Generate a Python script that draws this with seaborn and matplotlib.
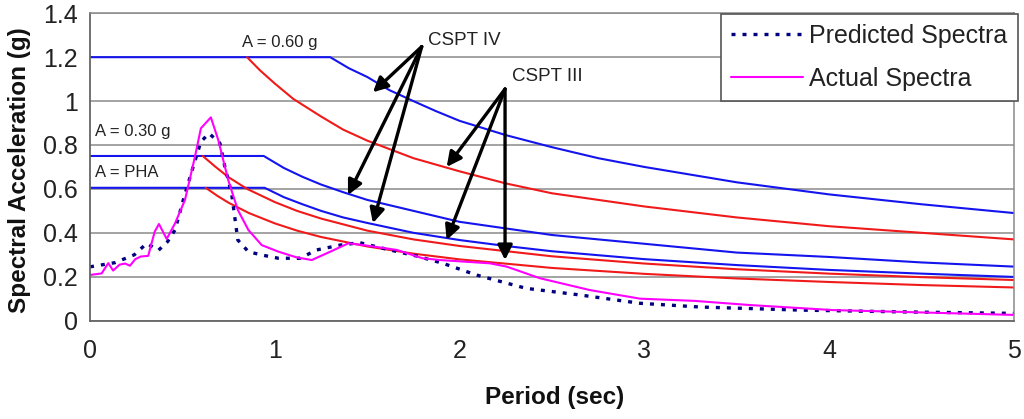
import matplotlib

matplotlib.use("Agg")
import matplotlib.pyplot as plt
import numpy as np
import pandas as pd
import seaborn as sns

# predicted (dotted) and actual (solid) response spectra, period in sec, Sa in g
pred_period = [0, 0.135, 0.24, 0.307, 0.37, 0.42, 0.46, 0.505, 0.547, 0.60, 0.644, 0.703,
               0.73, 0.766, 0.80, 0.857, 0.929, 1.02, 1.136, 1.227, 1.353, 1.46, 1.587,
               1.768, 1.91, 2.09, 2.36, 2.65, 2.976, 3.30, 3.84, 4.38, 5.0]
pred_sa = [0.245, 0.264, 0.30, 0.352, 0.32, 0.36, 0.413, 0.55, 0.67, 0.815, 0.853, 0.808,
           0.70, 0.58, 0.367, 0.314, 0.299, 0.284, 0.284, 0.322, 0.344, 0.355, 0.329,
           0.294, 0.261, 0.208, 0.147, 0.117, 0.079, 0.062, 0.048, 0.04, 0.033]

act_period = [0, 0.063, 0.099, 0.125, 0.16, 0.19, 0.216, 0.245, 0.275, 0.315, 0.35, 0.373,
              0.415, 0.46, 0.514, 0.568, 0.60, 0.654, 0.694, 0.748, 0.80, 0.857, 0.929,
              1.02, 1.118, 1.2, 1.30, 1.398, 1.48, 1.66, 1.80, 1.894, 2.164, 2.255, 2.435,
              2.706, 2.976, 3.27, 3.57, 4.02, 4.38, 5.0]
act_sa = [0.208, 0.215, 0.262, 0.228, 0.255, 0.26, 0.25, 0.28, 0.292, 0.295, 0.405, 0.44,
          0.372, 0.443, 0.55, 0.747, 0.876, 0.926, 0.823, 0.64, 0.504, 0.413, 0.344,
          0.314, 0.288, 0.276, 0.314, 0.352, 0.344, 0.322, 0.284, 0.276, 0.261, 0.246,
          0.193, 0.139, 0.10, 0.09, 0.071, 0.048, 0.04, 0.026]

# code spectra: CSPT IV (blue) and CSPT III (red) for three anchor levels
iv_060_period = [0, 1.30, 1.4, 1.5, 1.62, 1.75, 1.87, 2.0, 2.25, 2.5, 2.75, 3.0, 3.5, 4.0, 4.5, 5.0]
iv_060_sa = [1.2, 1.2, 1.15, 1.11, 1.05, 1.0, 0.955, 0.91, 0.845, 0.79, 0.74, 0.70, 0.63,
             0.575, 0.53, 0.49]
iii_060_period = [0.85, 0.92, 1.0, 1.1, 1.25, 1.37, 1.5, 1.75, 2.0, 2.25, 2.5, 3.0, 3.5,
                  4.0, 4.5, 5.0]
iii_060_sa = [1.2, 1.14, 1.08, 1.01, 0.93, 0.87, 0.82, 0.74, 0.68, 0.625, 0.58, 0.52, 0.47,
              0.43, 0.40, 0.37]

iv_030_period = [0, 0.94, 1.05, 1.15, 1.25, 1.37, 1.5, 1.75, 2.0, 2.25, 2.5, 3.0, 3.5, 4.0,
                 4.5, 5.0]
iv_030_sa = [0.75, 0.75, 0.695, 0.655, 0.62, 0.585, 0.55, 0.50, 0.45, 0.42, 0.39, 0.35,
             0.31, 0.29, 0.265, 0.246]
iii_030_period = [0.61, 0.68, 0.75, 0.85, 1.0, 1.12, 1.25, 1.5, 1.75, 2.0, 2.5, 3.0, 3.5,
                  4.0, 4.5, 5.0]
iii_030_sa = [0.75, 0.70, 0.653, 0.60, 0.54, 0.50, 0.465, 0.41, 0.37, 0.34, 0.293, 0.26,
              0.234, 0.214, 0.198, 0.185]

iv_pha_period = [0, 0.945, 1.05, 1.15, 1.25, 1.37, 1.5, 1.75, 2.0, 2.25, 2.5, 3.0, 3.5, 4.0,
                 4.5, 5.0]
iv_pha_sa = [0.605, 0.605, 0.562, 0.53, 0.50, 0.47, 0.445, 0.40, 0.367, 0.34, 0.316, 0.28,
             0.253, 0.231, 0.214, 0.199]
iii_pha_period = [0.626, 0.69, 0.75, 0.86, 1.0, 1.12, 1.25, 1.5, 1.75, 2.0, 2.5, 3.0, 3.5,
                  4.0, 4.5, 5.0]
iii_pha_sa = [0.605, 0.568, 0.537, 0.49, 0.443, 0.41, 0.381, 0.338, 0.305, 0.279, 0.24,
              0.213, 0.192, 0.176, 0.162, 0.151]

x_ticks = [0, 1, 2, 3, 4, 5]
y_ticks = [0, 0.2, 0.4, 0.6, 0.8, 1.0, 1.2, 1.4]
y_tick_labels = ["0", "0.2", "0.4", "0.6", "0.8", "1", "1.2", "1.4"]

BLUE = "#1414EE"
RED = "#F01A1A"
GRID = "#8a8a8a"

sns.set_theme(style="white")
plt.rcParams["font.family"] = ["Liberation Sans", "DejaVu Sans"]

fig = plt.figure(figsize=(10.24, 4.19), dpi=100)
ax = fig.add_axes([0.0879, 0.2348, 0.9023, 0.7335])


def draw(period, sa, color, lw=1.5, **kw):
    df = pd.DataFrame({"Period": period, "Sa": sa})
    sns.lineplot(data=df, x="Period", y="Sa", ax=ax, color=color, lw=lw,
                 estimator=None, sort=False, legend=False, **kw)
    return ax.lines[-1]


# code spectra, blue first so red sits on top where they meet
draw(iv_060_period, iv_060_sa, BLUE)
draw(iv_030_period, iv_030_sa, BLUE)
draw(iv_pha_period, iv_pha_sa, BLUE)
draw(iii_060_period, iii_060_sa, RED)
draw(iii_030_period, iii_030_sa, RED)
draw(iii_pha_period, iii_pha_sa, RED)

pred_line = draw(pred_period, pred_sa, "#000080", lw=2.4, linestyle=(0, (1.2, 2.1)))
act_line = draw(act_period, act_sa, "#FF00FF", lw=1.5)

ax.set_xlim(0, 5)
ax.set_ylim(0, 1.4)
ax.set_xticks(x_ticks)
ax.set_xticklabels([str(t) for t in x_ticks])
ax.set_yticks(y_ticks)
ax.set_yticklabels(y_tick_labels)
ax.yaxis.grid(True, color=GRID, lw=1.1)
ax.xaxis.grid(False)
ax.tick_params(axis="both", labelsize=18, colors=GRID,
               direction="out", length=5, width=1.1)
ax.tick_params(axis="x", pad=8)
ax.tick_params(axis="y", pad=4)
for lab in ax.get_xticklabels() + ax.get_yticklabels():
    lab.set_color("#222222")
for side in ["top", "right"]:
    ax.spines[side].set_color(GRID)
    ax.spines[side].set_linewidth(1.1)
for side in ["left", "bottom"]:
    ax.spines[side].set_color("#666666")
    ax.spines[side].set_linewidth(1.3)

ax.set_xlabel("Period (sec)", fontsize=17.5, fontweight="bold", color="#111111")
ax.set_ylabel("Spectral Acceleration (g)", fontsize=17.5, fontweight="bold", color="#111111")
ax.xaxis.set_label_coords(0.503, -0.213)
ax.yaxis.set_label_coords(-0.064, 0.49)

# level labels
for txt, x, y in [("A = 0.60 g", 0.823, 1.265), ("A = 0.30 g", 0.027, 0.861),
                  ("A = PHA", 0.027, 0.674)]:
    ax.text(x, y, txt, fontsize=12, va="center", ha="left", color="#222222")

narrow = ["Liberation Sans Narrow", "Liberation Sans", "DejaVu Sans"]
ax.text(1.829, 1.276, "CSPT IV", fontsize=13.5, va="center", ha="left",
        color="#222222", family=narrow)
ax.text(2.284, 1.11, "CSPT III", fontsize=13.5, va="center", ha="left",
        color="#222222", family=narrow)

arrow = dict(arrowstyle="-|>", lw=2.4, color="black", mutation_scale=22,
             shrinkA=0, shrinkB=0)
for tip in [(1.531, 1.04), (1.396, 0.572), (1.531, 0.444)]:
    ax.annotate("", xy=tip, xytext=(1.795, 1.248), arrowprops=arrow)
for tip in [(1.93, 0.70), (1.93, 0.367), (2.246, 0.276)]:
    ax.annotate("", xy=tip, xytext=(2.246, 1.055), arrowprops=arrow)

leg = ax.legend([pred_line, act_line], ["Predicted Spectra", "Actual Spectra"],
                loc="upper right", bbox_to_anchor=(1.004, 0.998), borderaxespad=0,
                fontsize=18, frameon=True, fancybox=False, handlelength=2.9,
                handletextpad=0.25, labelspacing=0.75, borderpad=0.4)
leg.get_frame().set_edgecolor("#555555")
leg.get_frame().set_linewidth(1.2)
leg.get_frame().set_alpha(1)
for t in leg.get_texts():
    t.set_color("#222222")

fig.savefig("out.png", dpi=100)
